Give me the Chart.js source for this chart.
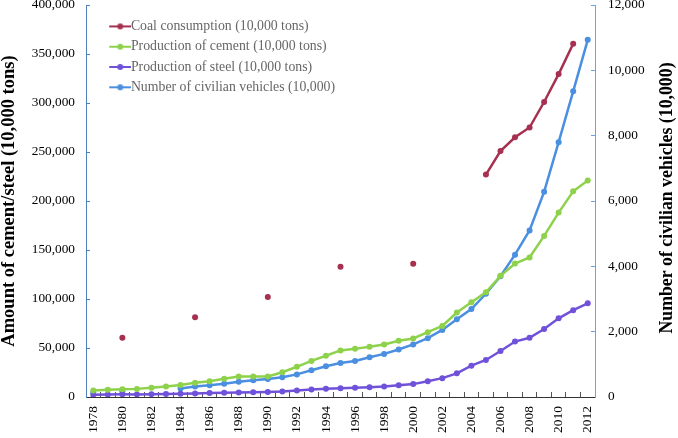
<!DOCTYPE html>
<html>
<head>
<meta charset="utf-8">
<script src="https://cdn.jsdelivr.net/npm/chart.js@4.4.1/dist/chart.umd.min.js"></script>
<style>
  html, body { margin: 0; padding: 0; background: #fff; }
  #wrap { width: 678px; height: 438px; position: relative; }
</style>
</head>
<body>
<div id="wrap"><canvas id="chart"></canvas></div>
<script>
const years = ['1978', '1979', '1980', '1981', '1982', '1983', '1984', '1985', '1986', '1987',
  '1988', '1989', '1990', '1991', '1992', '1993', '1994', '1995', '1996', '1997',
  '1998', '1999', '2000', '2001', '2002', '2003', '2004', '2005', '2006', '2007',
  '2008', '2009', '2010', '2011', '2012'];

// 10,000 tons
const coal = [null, null, 60500, null, null, null, null, 81300, null, null,
  null, null, 102000, null, null, null, null, 133000, null, null,
  null, null, 136000, null, null, null, null, 227000, 251000, 265000,
  275000, 301000, 329500, 360500, null];

const cement = [6524, 7390, 7986, 8290, 9520, 10825, 12302, 14595, 16156, 18625,
  21014, 21029, 20971, 25261, 30822, 36788, 42118, 47561, 49119, 51174,
  53600, 57300, 59700, 66104, 72500, 86208, 96682, 106885, 123676, 136117,
  142356, 164398, 188191, 209926, 220984];

const steel = [2208, 2497, 2716, 2670, 2902, 3072, 3372, 3693, 4058, 4386,
  4689, 4859, 5153, 5638, 6697, 7716, 8428, 8980, 9338, 9979,
  10738, 12110, 13146, 16068, 19252, 24108, 31976, 37771, 46893, 56561,
  60460, 69405, 80277, 88620, 95578];

// 10,000 vehicles (right axis)
const vehicles = [136, null, 178, null, null, null, 260, 321, 362, 408,
  464, 511, 551, 606, 692, 817, 942, 1040, 1100, 1219,
  1319, 1453, 1609, 1802, 2053, 2383, 2694, 3160, 3697, 4358,
  5100, 6281, 7802, 9356, 10933];

const seriesNames = [
  'Coal consumption (10,000 tons)',
  'Production of cement (10,000 tons)',
  'Production of steel (10,000 tons)',
  'Number of civilian vehicles (10,000)'
];
const colors = ['#A6304F', '#8ED14B', '#6F52D9', '#4A8FE0'];
const leftTitle = 'Amount of cement/steel (10,000 tons)';
const rightTitle = 'Number of civilian vehicles (10,000)';

const serif = '"Liberation Serif", "Times New Roman", serif';

// legend marker: short line with a dot
function marker(color) {
  const c = document.createElement('canvas');
  c.width = 46;
  c.height = 8;
  const g = c.getContext('2d');
  g.strokeStyle = color;
  g.lineWidth = 2;
  g.beginPath();
  g.moveTo(24, 4);
  g.lineTo(46, 4);
  g.stroke();
  g.fillStyle = color;
  g.beginPath();
  g.arc(35, 4, 3, 0, Math.PI * 2);
  g.fill();
  return c;
}

const makeSet = (label, data, color, axis) => ({
  label: label,
  data: data,
  yAxisID: axis,
  borderColor: color,
  backgroundColor: color,
  borderWidth: 2.5,
  pointRadius: 3,
  pointHoverRadius: 3,
  pointBorderWidth: 0,
  fill: false,
  tension: 0,
  spanGaps: false
});

// right axis title reads bottom-to-top like the left one
const sideTitle = {
  id: 'sideTitle',
  afterDraw(chart) {
    const { ctx, chartArea } = chart;
    ctx.save();
    ctx.translate(667, (chartArea.top + chartArea.bottom) / 2 - 3);
    ctx.rotate(-Math.PI / 2);
    ctx.font = 'bold 17.8px ' + serif;
    ctx.fillStyle = '#000';
    ctx.textAlign = 'center';
    ctx.textBaseline = 'middle';
    ctx.fillText(rightTitle, 0, 0);
    ctx.restore();
  }
};

new Chart(document.getElementById('chart').getContext('2d'), {
  type: 'line',
  data: {
    labels: years,
    datasets: [
      makeSet(seriesNames[0], coal, colors[0], 'y'),
      makeSet(seriesNames[1], cement, colors[1], 'y'),
      makeSet(seriesNames[2], steel, colors[2], 'y'),
      makeSet(seriesNames[3], vehicles, colors[3], 'y1')
    ]
  },
  options: {
    responsive: true,
    maintainAspectRatio: false,
    animation: false,
    layout: { padding: { top: 5, left: 0, right: 0, bottom: 0 } },
    plugins: {
      tooltip: { enabled: false },
      legend: {
        position: 'chartArea',
        align: 'start',
        title: { display: true, text: '', font: { size: 1, lineHeight: 1 }, padding: { top: 12, bottom: 0 } },
        labels: {
          usePointStyle: true,
          pointStyleWidth: 31.5,
          padding: 6.5,
          color: '#000',
          font: { family: serif, size: 13.8 },
          generateLabels(chart) {
            return chart.data.datasets.map((ds, i) => ({
              text: ds.label,
              pointStyle: marker(ds.borderColor),
              fillStyle: ds.borderColor,
              strokeStyle: ds.borderColor,
              lineWidth: 0,
              hidden: false,
              datasetIndex: i
            }));
          }
        }
      }
    },
    scales: {
      x: {
        type: 'category',
        offset: true,
        grid: { display: true, drawOnChartArea: false, offset: true, tickLength: -5, color: '#555' },
        border: { color: '#333', width: 1 },
        ticks: {
          autoSkip: false,
          minRotation: 90,
          maxRotation: 90,
          padding: 14,
          color: '#000',
          font: { family: serif, size: 13.5 },
          callback: (v, i) => (i % 2 === 0 ? years[i] : '')
        },
        afterFit: s => { s.height = 41; }
      },
      y: {
        position: 'left',
        min: 0,
        max: 400000,
        grid: { drawOnChartArea: false, tickLength: -4, color: '#4F81BD' },
        border: { color: '#4F81BD', width: 1 },
        ticks: { stepSize: 50000, padding: 15, color: '#000', font: { family: serif, size: 13.3, lineHeight: 1 } },
        title: { display: true, text: leftTitle, color: '#000', padding: 0, font: { family: serif, size: 18.5, weight: 'bold', lineHeight: 1 } },
        afterFit: s => { s.width = 86; s.paddingTop = 5; }
      },
      y1: {
        position: 'right',
        min: 0,
        max: 12000,
        grid: { drawOnChartArea: false, tickLength: -4, color: '#6FA3DD' },
        border: { color: '#6FA3DD', width: 1 },
        ticks: { stepSize: 2000, padding: 17, color: '#000', font: { family: serif, size: 13.3, lineHeight: 1 } },
        afterFit: s => { s.width = 83; s.paddingTop = 5; }
      }
    }
  },
  plugins: [sideTitle]
});
</script>
</body>
</html>
